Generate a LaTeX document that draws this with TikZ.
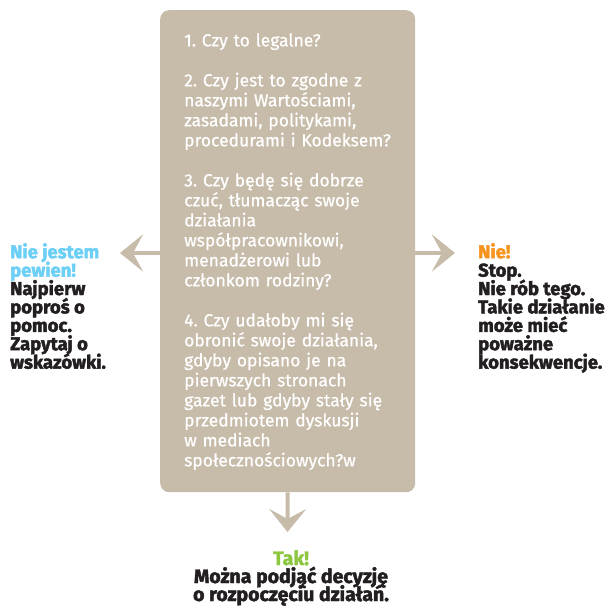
\documentclass[tikz,border=0pt]{standalone}
\usepackage{fontspec}
\setmainfont[FakeBold=0.7]{Fira Sans}
\newfontfamily\heavy[BoldFeatures={FakeBold=2.2}]{Fira Sans}
\usetikzlibrary{arrows.meta}
\definecolor{boxtan}{HTML}{C7BBA9}
\definecolor{unsure}{HTML}{6CCFF6}
\definecolor{nocol}{HTML}{F7941D}
\definecolor{yescol}{HTML}{8DC63F}
\definecolor{ink}{HTML}{231F20}
\tikzset{
  arr/.style={draw=boxtan, line width=4pt, -{Stealth[length=23pt, width=37pt, inset=10pt]}},
  sidetext/.style={inner sep=0pt, align=left, text=ink, font=\heavy\bfseries\fontsize{18.5}{18.4}\selectfont},
}
\begin{document}
\frenchspacing
\lineskiplimit=-20pt
\begin{tikzpicture}[x=1pt,y=-1pt]
\useasboundingbox[fill=white] (0,0) rectangle (612,606);
\node[fill=boxtan, rounded corners=9pt, minimum width=255pt, minimum height=482pt, anchor=north west, inner sep=0pt] (box) at (160,10) {};
\node[anchor=north west, text width=230pt, align=left, inner sep=0pt, text=white, font=\fontsize{17.5}{20}\selectfont] (q) at (184,33) {1. Czy to legalne?\\[20pt]
2. Czy jest to zgodne z\\ naszymi Wartościami,\\ zasadami, politykami,\\ procedurami i Kodeksem?\\[20pt]
3. Czy będę się dobrze\\ czuć, tłumacząc swoje\\ działania\\ współpracownikowi,\\ menadżerowi lub\\ członkom rodziny?\\[20pt]
4. Czy udałoby mi się\\ obronić swoje działania,\\ gdyby opisano je na\\ pierwszych stronach\\ gazet lub gdyby stały się\\ przedmiotem dyskusji\\ w mediach\\ społecznościowych?w};
\node[sidetext, anchor=north west] (unsure) at (10,243) {\textcolor{unsure}{Nie jestem}\\ \textcolor{unsure}{pewien!}\\ Najpierw\\ poproś o\\ pomoc.\\ Zapytaj o\\ wskazówki.};
\node[sidetext, anchor=north west] (no) at (478,243) {\textcolor{nocol}{Nie!}\\ Stop.\\ Nie rób tego.\\ Takie działanie\\ może mieć\\ poważne\\ konsekwencje.};
\node[sidetext, anchor=north, align=center, font=\heavy\bfseries\fontsize{19.5}{18}\selectfont] (yes) at (291,550) {\textcolor{yescol}{Tak!}\\ Można podjąć decyzję\\ o rozpoczęciu działań.};
\coordinate (lt) at (120,253);
\coordinate (rt) at (455,253);
\coordinate (dt) at (287.5,532);
\draw[arr] (box.west |- lt) -- (lt);
\draw[arr] (box.east |- rt) -- (rt);
\draw[arr] (box.south) -- (dt);
\end{tikzpicture}
\end{document}
